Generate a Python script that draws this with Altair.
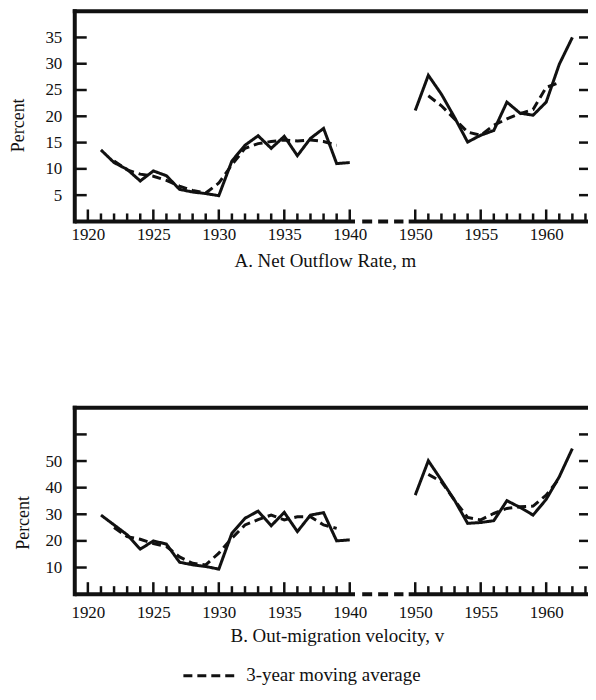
import altair as alt
import pandas as pd

FONT = "Liberation Serif"
INK = "#111111"
GAP = 5  # years cut out of the time axis between 1940 and 1950

# ---------------- data ----------------
# A. Net outflow rate, m (percent)
a_years_1 = list(range(1921, 1941))
a_vals_1 = [13.6, 11.2, 9.9, 7.7, 9.6, 8.7, 6.1, 5.6, 5.3, 4.9,
            11.5, 14.5, 16.3, 13.9, 16.2, 12.5, 15.8, 17.7, 11.0, 11.2]
a_ma_years_1 = list(range(1922, 1940))
a_ma_1 = [11.5, 9.8, 9.0, 8.6, 7.8, 6.7, 5.9, 5.4, 7.3, 10.8,
          13.9, 14.8, 15.2, 15.5, 15.3, 15.5, 15.2, 14.5]
a_years_2 = list(range(1950, 1963))
a_vals_2 = [21.1, 27.8, 24.2, 19.8, 15.1, 16.4, 17.3, 22.7, 20.6, 20.2, 22.7, 29.9, 35.0]
a_ma_years_2 = list(range(1951, 1962))
a_ma_2 = [23.9, 22.0, 19.5, 17.0, 16.4, 18.3, 19.5, 20.5, 21.3, 25.5, 26.4]

# B. Out-migration velocity, v (percent)
b_years_1 = list(range(1921, 1941))
b_vals_1 = [29.7, 26.0, 22.3, 16.9, 20.0, 18.8, 12.0, 11.0, 10.4, 9.4,
            22.9, 28.5, 31.2, 25.7, 30.7, 23.5, 29.7, 30.6, 20.0, 20.4]
b_ma_years_1 = list(range(1922, 1940))
b_ma_1 = [25.0, 21.6, 20.6, 19.0, 17.9, 14.0, 11.6, 11.0, 15.4, 21.0,
          26.0, 28.0, 29.7, 27.9, 29.1, 29.1, 26.0, 24.7]
b_years_2 = list(range(1950, 1963))
b_vals_2 = [37.2, 50.1, 42.8, 35.3, 26.6, 26.9, 27.6, 35.1, 32.6, 29.7, 35.6, 44.1, 54.7]
b_ma_years_2 = list(range(1951, 1962))
b_ma_2 = [45.0, 42.2, 35.3, 28.8, 27.9, 30.3, 32.2, 32.8, 33.1, 37.2, 43.5]

# ticks, labels, legend
x_tick_years = list(range(1920, 1941)) + list(range(1950, 1964))
x_label_years = [1920, 1925, 1930, 1935, 1940, 1950, 1955, 1960]
a_y_ticks = [5, 10, 15, 20, 25, 30, 35]
a_y_labels = [5, 10, 15, 20, 25, 30, 35]
b_y_ticks = [10, 20, 30, 40, 50, 60]
b_y_labels = [10, 20, 30, 40, 50]
legend_labels = ["3-year moving average"]

SOLID = "Annual"
MA = "3-year moving average"

W = 515
X0, X1 = 1919, 1919 + W / 13.14   # axis positions (broken scale)


def pos(y):
    return y if y <= 1940 else y - GAP


def series_frame(y1, v1, my1, m1, y2, v2, my2, m2):
    rows = []
    for seg, ys, vs, s in [("s1", y1, v1, SOLID), ("s2", y2, v2, SOLID),
                           ("m1", my1, m1, MA), ("m2", my2, m2, MA)]:
        for y, v in zip(ys, vs):
            rows.append({"year": y, "pos": pos(y), "value": v, "series": s, "seg": seg})
    return pd.DataFrame(rows)


LABEL_EXPR = f"datum.value > 1942 ? '' + (datum.value + {GAP}) : '' + datum.value"


def panel(df, ymax, H, y_ticks, y_labels, title, lab_pad, title_x, title_y,
          ytitle_x, ytitle_y, with_legend):
    xs = alt.Scale(domain=[X0, X1], nice=False, zero=False)
    ysc = alt.Scale(domain=[0, ymax], nice=False, zero=True)

    x_axis = alt.Axis(
        values=[pos(y) for y in x_label_years], labelExpr=LABEL_EXPR,
        ticks=False, tickSize=0, domain=False, grid=False,
        labelFont=FONT, labelFontSize=17, labelColor=INK, labelPadding=lab_pad,
        labelOverlap=False, labelFlush=False,
        title=title, titleFont=FONT, titleFontSize=19, titleFontWeight="normal",
        titleColor=INK, titleX=title_x, titleY=title_y, titleAlign="center",
        titleBaseline="alphabetic",
    )
    y_axis = alt.Axis(
        values=y_labels, ticks=False, tickSize=0, domain=False, grid=False,
        labelFont=FONT, labelFontSize=17, labelColor=INK, labelPadding=13,
        title="Percent", titleFont=FONT, titleFontSize=18, titleFontWeight="normal",
        titleColor=INK, titleX=ytitle_x, titleY=ytitle_y, titleAngle=270,
        titleAlign="center", titleBaseline="middle",
    )

    lines = alt.Chart(df).mark_line(strokeWidth=3, color=INK).encode(
        x=alt.X("pos:Q", scale=xs, axis=x_axis),
        y=alt.Y("value:Q", scale=ysc, axis=y_axis),
        strokeDash=alt.StrokeDash(
            "series:N",
            scale=alt.Scale(domain=[SOLID, MA], range=[[1, 0], [9, 5]]),
            legend=None,
        ),
        detail="seg:N",
    )

    one = pd.DataFrame({"k": [0]})
    # frame: top and left edges, bottom axis line broken between 1940 and 1950
    top_edge = alt.Chart(one).mark_rect(color=INK).encode(
        x=alt.value(-2), x2=alt.value(W), y=alt.value(-2), y2=alt.value(2))
    left_edge = alt.Chart(one).mark_rect(color=INK).encode(
        x=alt.value(-2), x2=alt.value(2), y=alt.value(-2), y2=alt.value(H + 2))
    bottom = pd.DataFrame({"x": [X0, 1944.5], "x2": [1940.4, X1]})
    bottom_edge = alt.Chart(bottom).mark_rect(color=INK).encode(
        x=alt.X("x:Q", axis=x_axis), x2="x2:Q", y=alt.value(H - 2), y2=alt.value(H + 2))
    frame_d = pd.DataFrame({"x": [1940.95], "x2": [1944.1], "y": [0]})
    d_rule = alt.Chart(frame_d).mark_rule(strokeWidth=4, color=INK, strokeDash=[10, 6]).encode(
        x=alt.X("x:Q", axis=x_axis), x2="x2:Q", y=alt.Y("y:Q", axis=y_axis))

    xt = pd.DataFrame({"pos": [pos(y) for y in x_tick_years],
                       "major": [y % 5 == 0 for y in x_tick_years]})
    xt_major = alt.Chart(xt[xt["major"]]).mark_rule(strokeWidth=2.5, color=INK).encode(
        x=alt.X("pos:Q", axis=x_axis), y=alt.value(H), y2=alt.value(H - 12))
    xt_minor = alt.Chart(xt[~xt["major"]]).mark_rule(strokeWidth=2.5, color=INK).encode(
        x=alt.X("pos:Q", axis=x_axis), y=alt.value(H), y2=alt.value(H - 8))

    yt = pd.DataFrame({"v": y_ticks})
    yt_left = alt.Chart(yt).mark_tick(thickness=2.5, size=12, color=INK, opacity=1).encode(
        y=alt.Y("v:Q", axis=y_axis), x=alt.value(6))
    yt_right = alt.Chart(yt).mark_tick(thickness=2.5, size=9, color=INK, opacity=1).encode(
        y=alt.Y("v:Q", axis=y_axis), x=alt.value(W - 4.5))

    layers = [lines, top_edge, left_edge, bottom_edge, d_rule, xt_major, xt_minor,
              yt_left, yt_right]

    if with_legend:
        leg = pd.DataFrame({"label": legend_labels})
        leg_base = H + 87
        leg_line = alt.Chart(leg).mark_rule(strokeWidth=3, color=INK, strokeDash=[9, 5]).encode(
            x=alt.value(109), x2=alt.value(161), y=alt.value(leg_base - 5))
        leg_text = alt.Chart(leg).mark_text(
            font=FONT, fontSize=19, color=INK, align="left", baseline="alphabetic").encode(
            x=alt.value(172), y=alt.value(leg_base), text="label:N")
        layers += [leg_line, leg_text]

    return alt.layer(*layers).properties(width=W, height=H)


df_a = series_frame(a_years_1, a_vals_1, a_ma_years_1, a_ma_1,
                    a_years_2, a_vals_2, a_ma_years_2, a_ma_2)
df_b = series_frame(b_years_1, b_vals_1, b_ma_years_1, b_ma_1,
                    b_years_2, b_vals_2, b_ma_years_2, b_ma_2)

panel_a = panel(df_a, 40, 211, a_y_ticks, a_y_labels, "A. Net Outflow Rate, m",
                lab_pad=5, title_x=251, title_y=45, ytitle_x=-56, ytitle_y=114, with_legend=False)
panel_b = panel(df_b, 70, 187, b_y_ticks, b_y_labels, "B. Out-migration velocity, v",
                lab_pad=10, title_x=263, title_y=48, ytitle_x=-51, ytitle_y=115, with_legend=True)

chart = alt.vconcat(panel_a, panel_b, spacing=136).resolve_scale(
    strokeDash="independent").properties(
    padding={"left": 2, "top": 0, "right": 0, "bottom": 0}).configure_view(stroke=None)

chart.save("out.html", embed_options={"renderer": "svg", "actions": False})
